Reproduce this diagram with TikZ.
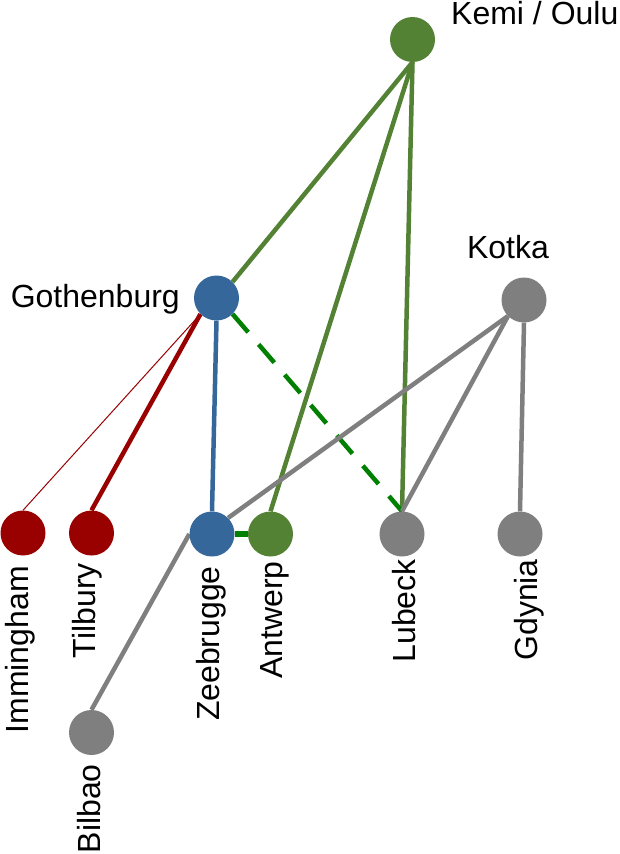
\documentclass[tikz,border=0pt]{standalone}
\usepackage{fontspec}
\setmainfont{Liberation Sans}
\usetikzlibrary{backgrounds}
\definecolor{cgreen}{HTML}{548235}
\definecolor{cblue}{HTML}{35679A}
\definecolor{cred}{HTML}{990000}
\definecolor{cgray}{HTML}{7F7F7F}
\definecolor{bgreen}{HTML}{008000}
\tikzset{
  port/.style={circle, minimum size=45pt, inner sep=0pt, fill=#1},
  lbl/.style={inner sep=0pt, font=\fontsize{32}{38}\selectfont},
  vlbl/.style={lbl, rotate=90, anchor=base east},
  link/.style={line width=4.5pt, draw=#1},
}
\begin{document}
\begin{tikzpicture}[x=1pt,y=-1pt]
\useasboundingbox (0,0) rectangle (620,854);
% ports
\node[port=cgreen] (kemi) at (412.5,39.5) {};
\node[port=cblue] (goth) at (216.5,298) {};
\node[port=cgray] (kotka) at (524,300) {};
\node[port=cred] (imm) at (23,533) {};
\node[port=cred] (til) at (91.5,533) {};
\node[port=cblue] (zee) at (212,534) {};
\node[port=cgreen] (ant) at (270.5,534) {};
\node[port=cgray] (lub) at (402,534) {};
\node[port=cgray] (gdy) at (520,534) {};
\node[port=cgray] (bil) at (91.5,732.5) {};
% labels
\node[lbl, anchor=base west] (lkemi) at (451,24) {Kemi / Oulu};
\node[lbl, anchor=base east] (lgoth) at (180,307) {Gothenburg};
\node[lbl, anchor=base] (lkotka) at (508,258) {Kotka};
\node[vlbl] (limm) at (28,566) {Immingham};
\node[vlbl] (ltil) at (95,563) {Tilbury};
\node[vlbl] (lzee) at (219,566) {Zeebrugge};
\node[vlbl] (lant) at (282,561) {Antwerp};
\node[vlbl] (llub) at (415,559) {Lubeck};
\node[vlbl] (lgdy) at (537,559) {Gdynia};
\node[vlbl] (lbil) at (100,764) {Bilbao};
% links
\begin{pgfonlayer}{background}
\draw[link=cgreen] (kemi.south) -- (goth.north east);
\draw[link=cgreen] (kemi.south) -- (ant.north);
\draw[link=cgreen] (kemi.south) -- (lub.north);
\draw[line width=1pt, draw=cred] (goth.south west) -- (imm.north);
\draw[link=cred] (goth.south west) -- (til.north);
\draw[link=cblue] (goth.south) -- (zee.north);
\draw[link=bgreen, dash pattern=on 24pt off 16pt] (goth.south east) -- (lub.north);
\draw[link=bgreen, line width=5.5pt] (zee.east) -- (ant.west);
\draw[link=cgray] (kotka.south west) -- (zee.north east);
\draw[link=cgray] (kotka.south west) -- (lub.north);
\draw[link=cgray] (kotka.south) -- (gdy.north);
\draw[link=cgray] (bil.north) -- (zee.west);
\end{pgfonlayer}
\end{tikzpicture}
\end{document}
